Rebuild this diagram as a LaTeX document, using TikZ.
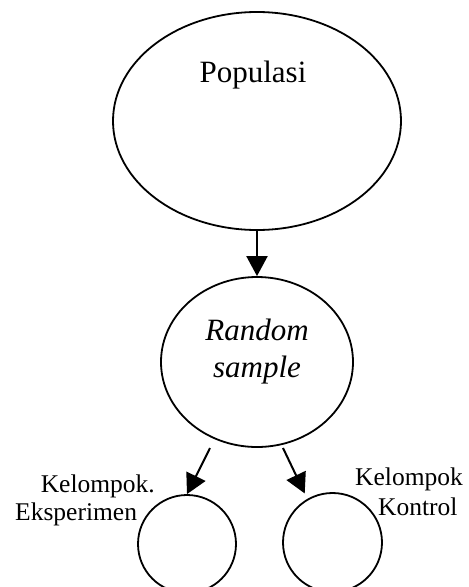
\documentclass[tikz,border=0pt]{standalone}
\usepackage{fontspec}
\setmainfont{Liberation Serif}
\usetikzlibrary{shapes.geometric,arrows.meta}
\begin{document}
\begin{tikzpicture}[x=1pt,y=-1pt,
  shape outline/.style={draw=black, line width=1.8pt, inner sep=0pt},
  bigtext/.style={font=\fontsize{31}{37}\selectfont, inner sep=0pt},
  sidetext/.style={font=\fontsize{25.5}{29}\selectfont, inner sep=0pt},
  conn/.style={line width=2pt, -{Triangle[length=20pt,width=21pt]}}]
\useasboundingbox (0,0) rectangle (469,587);
% shapes
\node[shape outline, ellipse, minimum width=288pt, minimum height=218pt] (pop) at (257,121) {};
\node[shape outline, ellipse, minimum width=192pt, minimum height=170pt] (rs) at (257,362) {};
\node[shape outline, circle, minimum size=98pt] (exp) at (187,544) {};
\node[shape outline, circle, minimum size=99pt] (ctl) at (332.5,542.5) {};
% texts
\node[bigtext, anchor=base] (popt) at (253,82) {Populasi};
\node[bigtext, anchor=base] (rst1) at (257,340) {\itshape Random};
\node[bigtext, anchor=base] (rst2) at (257,377) {\itshape sample};
\node[sidetext, anchor=base east] (expt1) at (155,492) {Kelompok.};
\node[sidetext, anchor=base west] (expt2) at (15,520) {Eksperimen};
\node[sidetext, anchor=base west] (ctlt1) at (355,485) {Kelompok};
\node[sidetext, anchor=base west] (ctlt2) at (378,515) {Kontrol};
% connectors
\coordinate (s1) at (210,448);
\coordinate (s2) at (283,448);
\draw[conn] (pop.south) -- (rs.north);
\draw[conn] (s1) -- (exp.north);
\draw[conn, shorten >=6pt] (s2) -- (ctl.120);
\end{tikzpicture}
\end{document}
